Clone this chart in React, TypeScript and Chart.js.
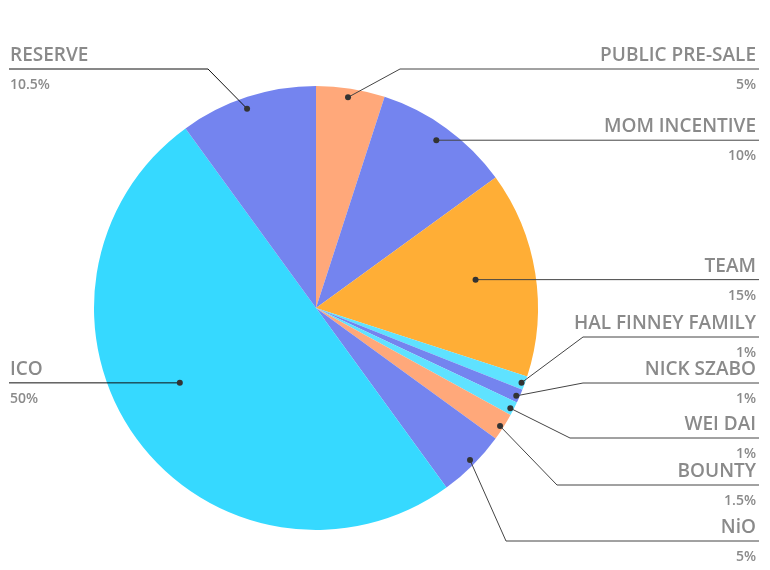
import React, { useEffect, useRef } from "react";
import { Chart, registerables } from "chart.js";

Chart.register(...registerables);

const categories = [
  "PUBLIC PRE-SALE",
  "MOM INCENTIVE",
  "TEAM",
  "HAL FINNEY FAMILY",
  "NICK SZABO",
  "WEI DAI",
  "BOUNTY",
  "NiO",
  "ICO",
  "RESERVE",
];
// slice sizes as drawn in the picture
const values = [5, 10, 15, 1, 1, 1, 2, 5, 50, 10];
// percentages as printed on the labels
const percentLabels = ["5%", "10%", "15%", "1%", "1%", "1%", "1.5%", "5%", "50%", "10.5%"];
const colors = [
  "#FFA87A",
  "#7484EF",
  "#FFAE36",
  "#5FE2FF",
  "#7484EF",
  "#5FE2FF",
  "#FFA87A",
  "#7484EF",
  "#36D9FF",
  "#7484EF",
];

// annotation layout: side, horizontal line y, elbow x (null = straight), dot position within slice
const labelSide = ["R", "R", "R", "R", "R", "R", "R", "R", "L", "L"];
const labelLineY = [69, 140, 280, 337, 383, 438, 485, 541, 383, 69];
const labelElbowX = [400, null, null, 583, 583, 570, 557, 506, null, 208];
const dotT = [0.48, 0.49, 0.48, 0.55, 0.58, 0.58, 0.54, 0.48, 0.54, 0.47];
const dotRF = [0.96, 0.93, 0.73, 0.985, 0.985, 0.985, 0.985, 0.975, 0.7, 0.95];

const labelPlugin = {
  id: "leaderLabels",
  afterDraw(chart: any) {
    const ctx = chart.ctx;
    const meta = chart.getDatasetMeta(0);
    const W = chart.width;
    ctx.save();
    meta.data.forEach((arc: any, i: number) => {
      const { x, y, startAngle, endAngle, outerRadius } = arc.getProps(
        ["x", "y", "startAngle", "endAngle", "outerRadius"],
        true
      );
      const a = startAngle + (endAngle - startAngle) * dotT[i];
      const r = outerRadius * dotRF[i];
      const dx = x + Math.cos(a) * r;
      const dy = y + Math.sin(a) * r;
      const side = labelSide[i];
      const ly = labelLineY[i];
      const ex = labelElbowX[i];
      const outerX = side === "R" ? W - 11 : 9;
      ctx.strokeStyle = side === "L" ? "#111" : "#444";
      ctx.lineWidth = 1;
      ctx.beginPath();
      ctx.moveTo(dx, dy);
      if (ex !== null) {
        ctx.lineTo(ex, ly);
        ctx.lineTo(outerX, ly);
      } else {
        ctx.lineTo(outerX, dy);
      }
      ctx.stroke();
      ctx.fillStyle = "#333";
      ctx.beginPath();
      ctx.arc(dx, dy, 3, 0, Math.PI * 2);
      ctx.fill();

      const textY = ex !== null ? ly : dy;
      ctx.fillStyle = "#8a8a8a";
      ctx.textBaseline = "alphabetic";
      ctx.textAlign = side === "R" ? "right" : "left";
      const tx = side === "R" ? W - 14 : 10;
      ctx.font = "600 19px 'Open Sans', sans-serif";
      ctx.fillText(categories[i], tx, textY - 8);
      ctx.font = "600 14px 'Open Sans', sans-serif";
      ctx.fillText(percentLabels[i], tx, textY + 20);
    });
    ctx.restore();
  },
};

export default function App() {
  const ref = useRef<HTMLCanvasElement>(null);
  useEffect(() => {
    document.body.style.margin = "0";
    const chart = new Chart(ref.current as HTMLCanvasElement, {
      type: "pie",
      data: {
        labels: categories,
        datasets: [
          {
            data: values,
            backgroundColor: colors,
            borderWidth: 0,
          },
        ],
      },
      options: {
        responsive: false,
        animation: false,
        layout: { padding: { left: 94, right: 232, top: 86, bottom: 40 } },
        plugins: {
          legend: { display: false },
          tooltip: { enabled: false },
        },
      },
      plugins: [labelPlugin],
    });
    return () => chart.destroy();
  }, []);
  return (
    <div style={{ width: 770, height: 570, background: "#fff" }}>
      <canvas ref={ref} width={770} height={570} style={{ display: "block" }} />
    </div>
  );
}
